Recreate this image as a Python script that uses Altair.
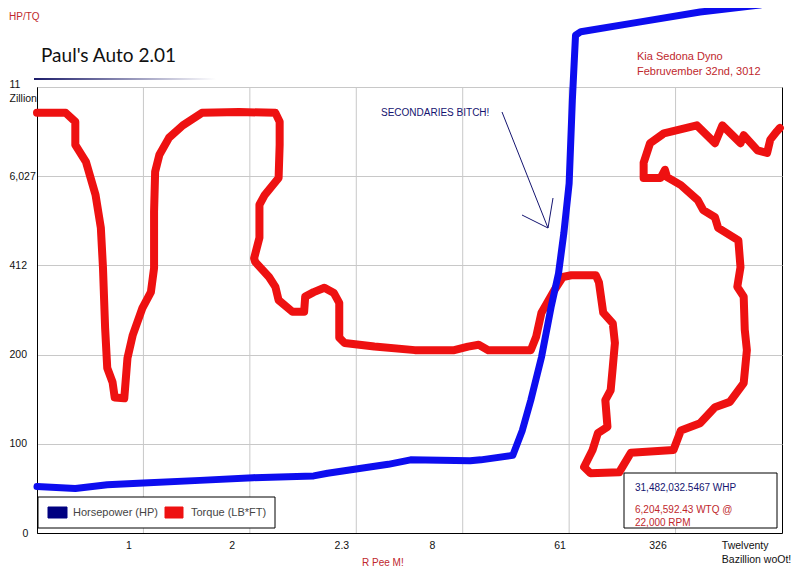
import json
import altair as alt
import pandas as pd

# ---------------- data ----------------
torque_x = [0.00, 0.27, 0.36, 0.36, 0.46, 0.55, 0.60, 0.62, 0.64, 0.66, 0.71, 0.73, 0.82, 0.85, 0.90,
            0.99, 1.07, 1.10, 1.10, 1.11, 1.15, 1.24, 1.37, 1.55, 1.90, 2.24, 2.28, 2.28, 2.27, 2.14,
            2.09, 2.09, 2.04, 2.05, 2.18, 2.24, 2.27, 2.40, 2.51, 2.52, 2.60, 2.70, 2.79, 2.84, 2.84,
            2.84, 2.89, 3.17, 3.55, 3.92, 4.05, 4.15, 4.24, 4.64, 4.69, 4.74, 4.86, 4.94, 5.02, 5.25,
            5.28, 5.32, 5.41, 5.43, 5.41, 5.39, 5.34, 5.36, 5.27, 5.22, 5.14, 5.20, 5.47, 5.58, 5.98,
            6.05, 6.23, 6.37, 6.51, 6.64, 6.67, 6.65, 6.64, 6.58, 6.61, 6.59, 6.40, 6.37, 6.26, 6.21,
            6.05, 5.92, 5.90, 5.86, 5.70, 5.70, 5.76, 5.89, 6.20, 6.37, 6.44, 6.61, 6.64, 6.77, 6.86,
            6.89, 6.95, 6.98]
torque_y = [4.71, 4.71, 4.61, 4.35, 4.16, 3.79, 3.42, 2.97, 2.30, 1.85, 1.69, 1.52, 1.51, 1.96, 2.22,
            2.52, 2.70, 2.97, 3.60, 4.05, 4.24, 4.43, 4.57, 4.71, 4.72, 4.71, 4.61, 4.35, 3.98, 3.79,
            3.68, 3.31, 3.08, 3.04, 2.87, 2.76, 2.61, 2.48, 2.48, 2.65, 2.70, 2.75, 2.69, 2.58, 2.42,
            2.19, 2.13, 2.09, 2.05, 2.05, 2.09, 2.11, 2.05, 2.05, 2.20, 2.47, 2.72, 2.87, 2.89, 2.89,
            2.81, 2.47, 2.35, 2.13, 1.86, 1.60, 1.49, 1.19, 1.12, 0.93, 0.74, 0.67, 0.68, 0.90, 0.93,
            1.15, 1.23, 1.41, 1.47, 1.68, 2.05, 2.28, 2.65, 2.76, 2.98, 3.28, 3.42, 3.54, 3.62, 3.73,
            3.90, 3.99, 4.07, 3.98, 3.98, 4.15, 4.37, 4.48, 4.57, 4.37, 4.57, 4.37, 4.46, 4.29, 4.26,
            4.41, 4.50, 4.54]

hp_x = [0.00, 0.36, 0.66, 1.00, 1.53, 2.03, 2.60, 2.73, 3.30, 3.51, 4.07, 4.17, 4.47, 4.56, 4.64,
        4.74, 4.83, 4.90, 4.95, 5.00, 5.03, 5.06, 5.11, 5.67, 6.23, 6.79, 7.07]
hp_y = [0.52, 0.50, 0.54, 0.56, 0.59, 0.62, 0.64, 0.67, 0.77, 0.82, 0.81, 0.82, 0.87, 1.15, 1.49,
        1.97, 2.53, 2.91, 3.36, 3.92, 4.85, 5.58, 5.62, 5.73, 5.84, 5.92, 5.98]

x_grid = [1, 2, 3, 4, 5, 6]
x_label_pos = [0.86, 1.83, 2.86, 3.71, 4.91, 5.83, 6.43]
x_labels = ["1", "2", "2.3", "8", "61", "326", "Twelventy|Bazillion woOt!"]
y_tick_pos = [0, 1, 2, 3, 4, 5]
y_labels = ["0", "100", "200", "412", "6,027", "11|Zillion"]

RED = "#ee1111"
BLUE = "#0d0def"
NAVY = "#141470"
DKRED = "#c0282d"

tdf = pd.DataFrame({"x": torque_x, "y": torque_y, "i": range(len(torque_x))})
hdf = pd.DataFrame({"x": hp_x, "y": hp_y, "i": range(len(hp_x))})
one = pd.DataFrame({"a": [0]})

# plot-area origin on the page (for annotation placement)
OX, OY = 37, 87

xs = alt.Scale(domain=[0, 7], nice=False, zero=False)
ys = alt.Scale(domain=[0, 5], nice=False, zero=False)

x_expr = "split({}[indexof({}, datum.value)], '|')".format(json.dumps(x_labels).replace('"', "'"), json.dumps(x_label_pos))
y_expr = "split({}[indexof({}, datum.value)], '|')".format(json.dumps(y_labels).replace('"', "'"), json.dumps(y_tick_pos))

xaxis = alt.Axis(values=x_label_pos, labelExpr=x_expr, grid=False, ticks=False, title=None,
                 labelPadding=7, labelFontSize=10.5, labelColor="#111", labelLineHeight=14,
                 labelFlush=False, labelOverlap=False,
                 labelAlign={"condition": {"test": "datum.value > 6", "value": "left"}, "value": "center"},
                 domainColor="black")
yaxis = alt.Axis(values=y_tick_pos, labelExpr=y_expr, grid=True, gridColor="#c8c8c8", ticks=False,
                 title=None, labelFontSize=10.5, labelColor="#111", labelAlign="left", labelLineHeight=14,
                 labelOverlap=False, labelFlush=False,
                 labelPadding={"condition": {"test": "datum.value == 0", "value": 15}, "value": 28},
                 labelBaseline={"condition": {"test": "datum.value == 5", "value": "alphabetic"}, "value": "middle"},
                 domainColor="black")

X = alt.X("x:Q", scale=xs, axis=xaxis)
Y = alt.Y("y:Q", scale=ys, axis=yaxis)

grid_v = alt.Chart(pd.DataFrame({"x": x_grid})).mark_rule(color="#c8c8c8", strokeWidth=1).encode(x=X)

torque = alt.Chart(tdf).mark_line(color=RED, strokeWidth=8, strokeCap="round", strokeJoin="round").encode(
    x=X, y=Y, order="i:Q")
hp = alt.Chart(hdf).mark_line(color=BLUE, strokeWidth=7, strokeCap="round", strokeJoin="round", clip=False).encode(
    x=X, y=Y, order="i:Q")


def txt(s, px, py, size=11, color="#000", font="Liberation Sans", align="left", baseline="middle"):
    return alt.Chart(one).mark_text(text=s, align=align, baseline=baseline, fontSize=size,
                                    color=color, font=font).encode(x=alt.value(px - OX), y=alt.value(py - OY))


def seg(x1, y1, x2, y2, color=NAVY, w=1):
    return alt.Chart(one).mark_rule(color=color, strokeWidth=w).encode(
        x=alt.value(x1 - OX), y=alt.value(y1 - OY), x2=alt.value(x2 - OX), y2=alt.value(y2 - OY))


def box(x1, y1, x2, y2, fill="white", stroke="black", w=1):
    return alt.Chart(one).mark_rect(fill=fill, stroke=stroke, strokeWidth=w).encode(
        x=alt.value(x1 - OX), y=alt.value(y1 - OY), x2=alt.value(x2 - OX), y2=alt.value(y2 - OY))


underline = alt.Chart(one).mark_rect(
    fill=alt.LinearGradient(gradient="linear", x1=0, x2=1, y1=0, y2=0,
                            stops=[alt.GradientStop(color="#1c1c6a", offset=0),
                                   alt.GradientStop(color="#ffffff", offset=1)])
).encode(x=alt.value(34 - OX), x2=alt.value(216 - OX), y=alt.value(78 - OY), y2=alt.value(80 - OY))

layers = [
    grid_v, torque, hp,
    txt("HP/TQ", 9, 16.5, size=10, color=DKRED),
    txt("Paul's Auto 2.01", 41, 56, size=19, color="#111", font="Lato"),
    underline,
    txt("Kia Sedona Dyno", 637, 57, size=11, color=DKRED),
    txt("Februvember 32nd, 3012", 637, 72, size=11, color=DKRED),
    txt("SECONDARIES BITCH!", 381, 113, size=10, color=NAVY),
    seg(502, 112, 548, 228), seg(522, 215, 548, 228), seg(553, 198, 548, 228),
    box(38, 497, 275, 528),
    box(48, 507, 67, 518, fill="#000080", stroke="#000080"),
    txt("Horsepower (HP)", 73, 513, size=11, color="#444"),
    box(165, 507, 183, 518, fill=RED, stroke=RED),
    txt("Torque (LB*FT)", 191, 513, size=11, color="#444"),
    box(624, 473, 777, 528),
    txt("31,482,032.5467 WHP", 635, 488, size=10, color=NAVY),
    txt("6,204,592.43 WTQ @", 635, 510, size=10, color=DKRED),
    txt("22,000 RPM", 635, 523, size=10, color=DKRED),
    txt("R Pee M!", 362, 563, size=10, color=DKRED),
]

chart = alt.layer(*layers).properties(
    width=745, height=446,
    padding={"left": OX - 8, "top": OY - 8, "right": 10, "bottom": 38},
    autosize=alt.AutoSizeParams(type="none"),
    background="white",
).configure_view(stroke="black", strokeWidth=1).configure_axis(labelFont="Liberation Sans")

chart.save("out.html", embed_options={"renderer": "svg", "actions": False})
